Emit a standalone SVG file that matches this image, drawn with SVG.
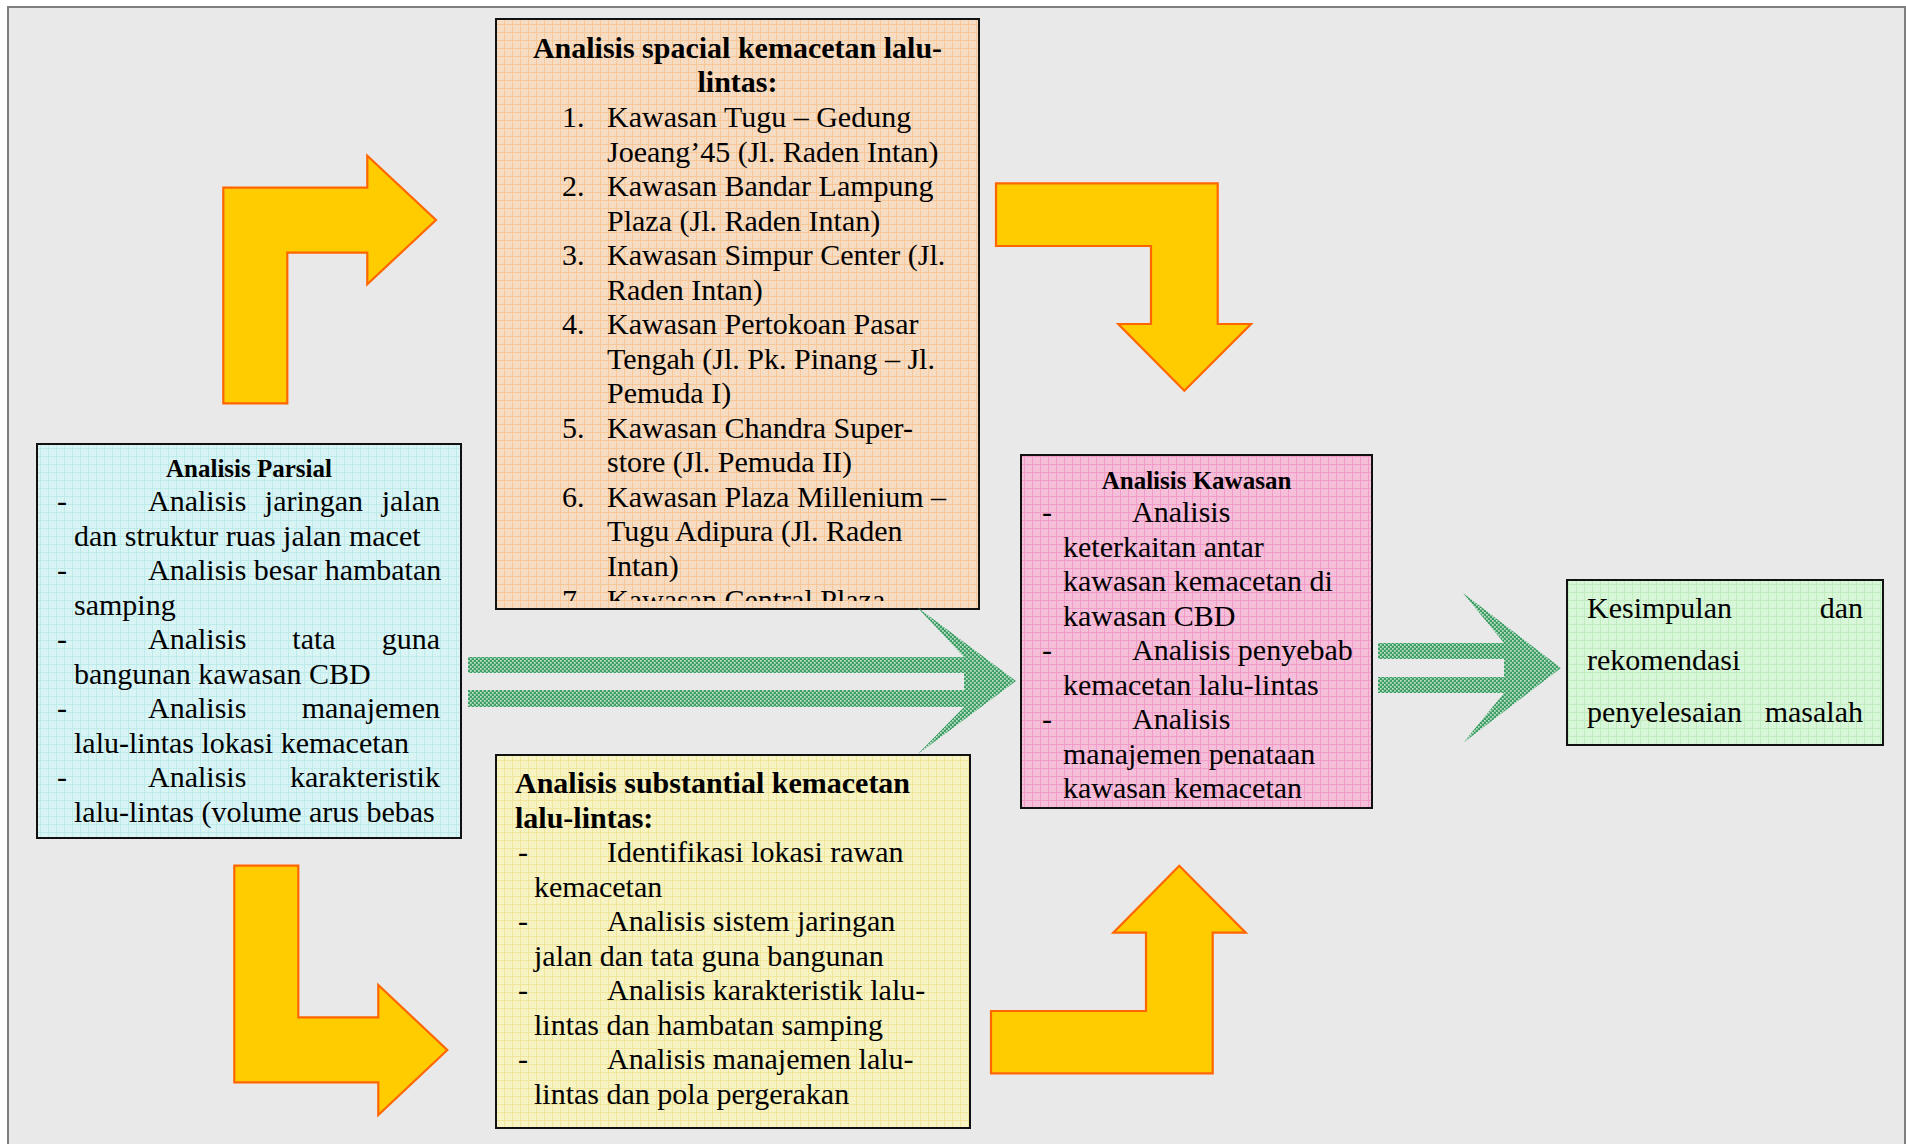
<svg xmlns="http://www.w3.org/2000/svg" width="1906" height="1144" viewBox="0 0 1906 1144">
  <style>
    .t{font-family:"Liberation Serif","Times New Roman",serif;font-size:30px;fill:#000}
    .b{font-weight:bold}
    .h{font-size:25px;font-weight:bold}
    .box{stroke:#111;stroke-width:2}
    .bend{fill:#ffcc00;stroke:#ff6600;stroke-width:2.2;stroke-linejoin:miter}
    .twin{fill:url(#dots)}
  </style>
  <defs>
    <!-- small-grid fills for the boxes -->
    <pattern id="gPeach" patternUnits="userSpaceOnUse" width="8" height="8">
      <rect width="8" height="8" fill="#f6dcc3"/>
      <path d="M0 0.5H8M0.5 0V8" stroke="#f8c797" stroke-width="1"/>
    </pattern>
    <pattern id="gCyan" patternUnits="userSpaceOnUse" width="8" height="8">
      <rect width="8" height="8" fill="#d9f4f4"/>
      <path d="M0 0.5H8M0.5 0V8" stroke="#bfeaea" stroke-width="1"/>
    </pattern>
    <pattern id="gYellow" patternUnits="userSpaceOnUse" width="8" height="8">
      <rect width="8" height="8" fill="#f7f3c2"/>
      <path d="M0 0.5H8M0.5 0V8" stroke="#efe69c" stroke-width="1"/>
    </pattern>
    <pattern id="gPink" patternUnits="userSpaceOnUse" width="8" height="8">
      <rect width="8" height="8" fill="#f5bed9"/>
      <path d="M0 0.5H8M0.5 0V8" stroke="#f39bc8" stroke-width="1"/>
    </pattern>
    <pattern id="gGreen" patternUnits="userSpaceOnUse" width="8" height="8">
      <rect width="8" height="8" fill="#d8f6d8"/>
      <path d="M0 0.5H8M0.5 0V8" stroke="#c0ecc0" stroke-width="1"/>
    </pattern>
    <!-- dotted lattice for the double-line arrows -->
    <pattern id="dots" patternUnits="userSpaceOnUse" width="4" height="4">
      <rect width="4" height="4" fill="#3f9d66"/>
      <rect x="0" y="0" width="1.7" height="1.7" fill="#bfe3cb"/>
      <rect x="2" y="2" width="1.7" height="1.7" fill="#bfe3cb"/>
    </pattern>
    <clipPath id="clipSpacial"><rect x="496" y="19" width="483" height="582"/></clipPath>
    <clipPath id="clipKawasan"><rect x="1021" y="455" width="351" height="345"/></clipPath>
  </defs>

  <rect width="1906" height="1144" fill="#ffffff"/>
  <rect x="8" y="7" width="1897" height="1150" fill="#e9e9e9" stroke="#7f7f7f" stroke-width="2"/>

  <!-- spatial analysis -->
  <g id="spacial">
    <rect class="box" x="496" y="19" width="483" height="590" fill="url(#gPeach)"/>
    <g clip-path="url(#clipSpacial)">
      <text class="t b" x="737.5" y="58" text-anchor="middle">Analisis spacial kemacetan lalu-</text>
      <text class="t b" x="737.5" y="92" text-anchor="middle">lintas:</text>
      <text class="t">
        <tspan x="562" y="127">1.</tspan><tspan x="607" y="127">Kawasan Tugu – Gedung</tspan>
        <tspan x="607" y="161.5">Joeang’45 (Jl. Raden Intan)</tspan>
        <tspan x="562" y="196">2.</tspan><tspan x="607" y="196">Kawasan Bandar Lampung</tspan>
        <tspan x="607" y="230.5">Plaza (Jl. Raden Intan)</tspan>
        <tspan x="562" y="265">3.</tspan><tspan x="607" y="265">Kawasan Simpur Center (Jl.</tspan>
        <tspan x="607" y="299.5">Raden Intan)</tspan>
        <tspan x="562" y="334">4.</tspan><tspan x="607" y="334">Kawasan Pertokoan Pasar</tspan>
        <tspan x="607" y="368.5">Tengah (Jl. Pk. Pinang – Jl.</tspan>
        <tspan x="607" y="403">Pemuda I)</tspan>
        <tspan x="562" y="437.5">5.</tspan><tspan x="607" y="437.5">Kawasan Chandra Super-</tspan>
        <tspan x="607" y="472">store (Jl. Pemuda II)</tspan>
        <tspan x="562" y="506.5">6.</tspan><tspan x="607" y="506.5">Kawasan Plaza Millenium –</tspan>
        <tspan x="607" y="541">Tugu Adipura (Jl. Raden</tspan>
        <tspan x="607" y="575.5">Intan)</tspan>
        <tspan x="562" y="610">7.</tspan><tspan x="607" y="610">Kawasan Central Plaza</tspan>
      </text>
    </g>
  </g>

  <!-- partial analysis -->
  <g id="parsial">
    <rect class="box" x="37" y="444" width="424" height="394" fill="url(#gCyan)"/>
    <text class="t h" x="249" y="477" text-anchor="middle">Analisis Parsial</text>
    <text class="t">
      <tspan x="57" y="511">-</tspan><tspan x="148" y="511">Analisis</tspan><tspan x="264.8" y="511">jaringan</tspan><tspan x="381.7" y="511">jalan</tspan>
      <tspan x="74" y="545.5">dan struktur ruas jalan macet</tspan>
      <tspan x="57" y="580">-</tspan><tspan x="148" y="580">Analisis besar hambatan</tspan>
      <tspan x="74" y="614.5">samping</tspan>
      <tspan x="57" y="649">-</tspan><tspan x="148" y="649">Analisis</tspan><tspan x="292.3" y="649">tata</tspan><tspan x="381.7" y="649">guna</tspan>
      <tspan x="74" y="683.5">bangunan kawasan CBD</tspan>
      <tspan x="57" y="718">-</tspan><tspan x="148" y="718">Analisis</tspan><tspan x="301.7" y="718">manajemen</tspan>
      <tspan x="74" y="752.5">lalu-lintas lokasi kemacetan</tspan>
      <tspan x="57" y="787">-</tspan><tspan x="148" y="787">Analisis</tspan><tspan x="290" y="787">karakteristik</tspan>
      <tspan x="74" y="821.5">lalu-lintas (volume arus bebas</tspan>
    </text>
  </g>

  <!-- substantial analysis -->
  <g id="substantial">
    <rect class="box" x="496" y="755" width="474" height="373" fill="url(#gYellow)"/>
    <text class="t b" x="515" y="793">Analisis substantial kemacetan</text>
    <text class="t b" x="515" y="827.5">lalu-lintas:</text>
    <text class="t">
      <tspan x="518" y="862">-</tspan><tspan x="607" y="862">Identifikasi lokasi rawan</tspan>
      <tspan x="534" y="896.5">kemacetan</tspan>
      <tspan x="518" y="931">-</tspan><tspan x="607" y="931">Analisis sistem jaringan</tspan>
      <tspan x="534" y="965.5">jalan dan tata guna bangunan</tspan>
      <tspan x="518" y="1000">-</tspan><tspan x="607" y="1000">Analisis karakteristik lalu-</tspan>
      <tspan x="534" y="1034.5">lintas dan hambatan samping</tspan>
      <tspan x="518" y="1069">-</tspan><tspan x="607" y="1069">Analisis manajemen lalu-</tspan>
      <tspan x="534" y="1103.5">lintas dan pola pergerakan</tspan>
    </text>
  </g>

  <!-- area analysis -->
  <g id="kawasan">
    <rect class="box" x="1021" y="455" width="351" height="353" fill="url(#gPink)"/>
    <text class="t h" x="1196.5" y="489" text-anchor="middle">Analisis Kawasan</text>
    <text class="t" clip-path="url(#clipKawasan)">
      <tspan x="1042" y="522">-</tspan><tspan x="1132" y="522">Analisis</tspan>
      <tspan x="1063" y="556.5">keterkaitan antar</tspan>
      <tspan x="1063" y="591">kawasan kemacetan di</tspan>
      <tspan x="1063" y="625.5">kawasan CBD</tspan>
      <tspan x="1042" y="660">-</tspan><tspan x="1132" y="660">Analisis penyebab</tspan>
      <tspan x="1063" y="694.5">kemacetan lalu-lintas</tspan>
      <tspan x="1042" y="729">-</tspan><tspan x="1132" y="729">Analisis</tspan>
      <tspan x="1063" y="763.5">manajemen penataan</tspan>
      <tspan x="1063" y="798">kawasan kemacetan</tspan>
    </text>
  </g>

  <!-- conclusion -->
  <g id="kesimpulan">
    <rect class="box" x="1567" y="580" width="316" height="165" fill="url(#gGreen)"/>
    <text class="t">
      <tspan x="1587" y="618">Kesimpulan</tspan><tspan x="1819.7" y="618">dan</tspan>
      <tspan x="1587" y="670">rekomendasi</tspan>
      <tspan x="1587" y="722">penyelesaian</tspan><tspan x="1764.7" y="722">masalah</tspan>
    </text>
  </g>

  <!-- connectors -->
  <g id="connectors">
    <polygon class="bend" points="223.3,403.3 223.3,187.7 367.3,187.7 367.3,155.7 436,220 367.3,284.3 367.3,252.7 287.3,252.7 287.3,403.3"/>
    <polygon class="bend" points="996,183.3 1217.7,183.3 1217.7,324 1251,324 1184.3,390.7 1118.3,324 1151,324 1151,246 996,246"/>
    <polygon class="bend" points="234.3,865.7 298.3,865.7 298.3,1017.3 378.3,1017.3 378.3,985 447.3,1050 378.3,1115 378.3,1082.3 234.3,1082.3"/>
    <polygon class="bend" points="991,1073.3 991,1011 1146,1011 1146,932.7 1113.3,932.7 1179.3,865.7 1245.7,932.7 1212.7,932.7 1212.7,1073.3"/>
    <path class="twin" d="M468,657H964L917,607L1016,681L918,754L964,707H468V690H964V673H468Z"/>
    <path class="twin" d="M1378,643H1504L1463,593L1561,668L1463,743L1504,693H1378V677H1504V659H1378Z"/>
  </g>
</svg>
